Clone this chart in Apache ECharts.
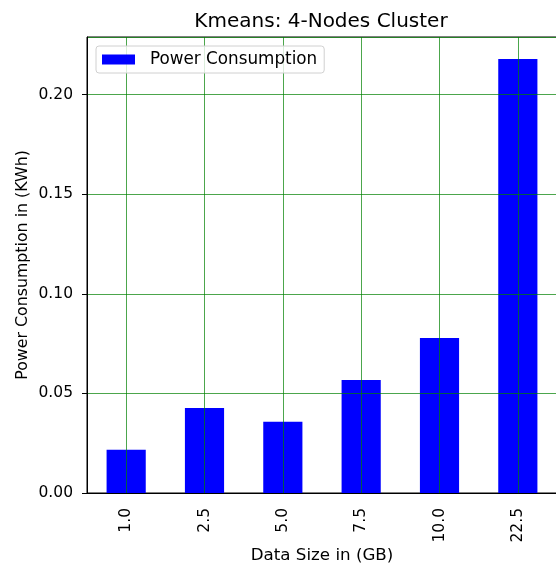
<!DOCTYPE html>
<html>
<head>
<meta charset="utf-8">
<title>Kmeans: 4-Nodes Cluster</title>
<script src="https://cdn.jsdelivr.net/npm/echarts@6/dist/echarts.min.js"></script>
<style>
  html, body { margin: 0; padding: 0; background: #fff; }
  #chart { width: 556px; height: 566px; }
</style>
</head>
<body>
<div id="chart"></div>
<script>
// data
const categories = ['1.0', '2.5', '5.0', '7.5', '10.0', '22.5'];
const powerValues = [0.0217, 0.0427, 0.0358, 0.0567, 0.0778, 0.2179];
const yTicks = [0, 0.05, 0.1, 0.15, 0.2];

const font = 'DejaVu Sans';
const gridGreen = 'rgba(0, 128, 0, 0.7)';

const chart = echarts.init(document.getElementById('chart'));

const option = {
  animation: false,
  title: {
    text: 'Kmeans: 4-Nodes Cluster',
    left: 316,
    top: 7,
    textAlign: 'center',
    textStyle: {
      fontFamily: font,
      fontSize: 20,
      fontWeight: 'normal',
      color: '#000',
    },
  },
  grid: {
    left: 87,
    top: 37,
    width: 470,
    height: 456,
    outerBoundsMode: 'none',
    containLabel: false,
    show: true,
    borderColor: '#000',
    borderWidth: 1,
    backgroundColor: 'transparent',
  },
  legend: {
    data: ['Power Consumption'],
    left: 96,
    top: 46,
    icon: 'rect',
    itemWidth: 33,
    itemHeight: 10,
    padding: [5, 7, 5, 6],
    borderColor: '#d0d0d0',
    borderWidth: 1,
    borderRadius: 3,
    backgroundColor: 'rgba(255,255,255,0.8)',
    textStyle: {
      fontFamily: font,
      fontSize: 16.8,
      color: '#000',
      padding: [0, 0, 0, 10],
    },
  },
  xAxis: {
    type: 'category',
    data: categories,
    z: 3,
    name: 'Data Size in (GB)',
    nameLocation: 'middle',
    nameGap: 54,
    nameMoveOverlap: false,
    nameTextStyle: { fontFamily: font, fontSize: 16.7, color: '#000' },
    axisLine: { lineStyle: { color: '#000', width: 1 } },
    axisTick: { alignWithLabel: true, length: 5, lineStyle: { color: '#000' } },
    axisLabel: {
      rotate: 90,
      margin: 15,
      fontFamily: font,
      fontSize: 15.5,
      color: '#000',
    },
    // grid lines through the bar centres, like the ticks
    splitLine: { show: true, alignWithLabel: true, lineStyle: { color: gridGreen, width: 1 } },
  },
  yAxis: {
    type: 'value',
    min: 0,
    max: 0.229,
    interval: 0.05,
    z: 3,
    name: 'Power Consumption in (KWh)',
    nameLocation: 'middle',
    nameGap: 56,
    nameMoveOverlap: false,
    nameRotate: 90,
    nameTextStyle: { fontFamily: font, fontSize: 15.8, color: '#000' },
    axisLine: { show: true, lineStyle: { color: '#000', width: 1 } },
    axisTick: { show: true, length: 5, lineStyle: { color: '#000' } },
    axisLabel: {
      margin: 14,
      fontFamily: font,
      fontSize: 15.5,
      color: '#000',
      showMaxLabel: false,
      formatter: (v) => (yTicks.some((t) => Math.abs(t - v) < 1e-9) ? v.toFixed(2) : ''),
    },
    splitLine: { show: true, lineStyle: { color: gridGreen, width: 1 } },
  },
  series: [
    {
      name: 'Power Consumption',
      type: 'bar',
      data: powerValues,
      barWidth: '50%',
      itemStyle: { color: '#0000ff' },
    },
  ],
};

chart.setOption(option);
</script>
</body>
</html>
